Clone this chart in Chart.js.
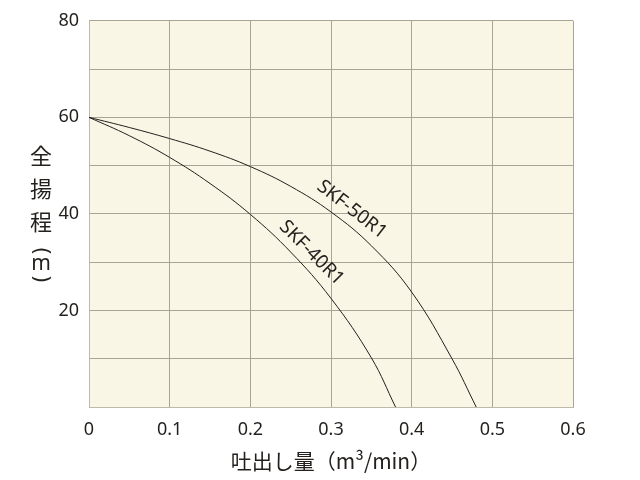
<!DOCTYPE html>
<html>
<head>
<meta charset="utf-8">
<script src="https://cdn.jsdelivr.net/npm/chart.js@4/dist/chart.umd.min.js"></script>
<style>
  html, body { margin: 0; padding: 0; background: #fff; }
  #wrap { width: 640px; height: 480px; }
</style>
</head>
<body>
<div id="wrap"><canvas id="plot" width="640" height="480"></canvas></div>
<script>
// flow (m3/min) vs total head (m)
const flow50 = [0, 0.05, 0.1, 0.15, 0.2, 0.25, 0.3, 0.35, 0.4, 0.45, 0.48]
const head50 = [60, 57.9, 55.6, 53.0, 49.8, 45.7, 40.4, 33.4, 23.8, 10.0, 0]

const flow40 = [0, 0.05, 0.1, 0.15, 0.2, 0.25, 0.3, 0.35, 0.38]
const head40 = [60, 56.2, 51.7, 46.3, 39.9, 32.1, 22.5, 10.2, 0]

// curve names and where they sit along the curves
const curveNames = ['SKF-50R1', 'SKF-40R1']
const nameFlow = [0.326, 0.276]
const nameHead = [40.9, 31.9]
const nameAngle = [38, 45]

const yTitleChars = ['全', '揚', '程']
const xTitle = '吐出し量（m³/min）'

function toPoints(xs, ys) {
    return xs.map((x, i) => ({ x: x, y: ys[i] }))
}

const plotBg = {
    id: 'plotBg',
    beforeDraw(chart) {
        const a = chart.chartArea
        const ctx = chart.ctx
        ctx.save()
        ctx.fillStyle = '#faf6e6'
        ctx.fillRect(a.left, a.top, a.right - a.left, a.bottom - a.top)
        ctx.restore()
    }
}

const curveLabels = {
    id: 'curveLabels',
    afterDatasetsDraw(chart) {
        const ctx = chart.ctx
        const xs = chart.scales.x
        const ys = chart.scales.y
        ctx.save()
        ctx.fillStyle = '#231f1c'
        ctx.font = '19px "Noto Sans", sans-serif'
        ctx.textAlign = 'center'
        ctx.textBaseline = 'middle'
        curveNames.forEach((name, i) => {
            ctx.save()
            ctx.translate(xs.getPixelForValue(nameFlow[i]), ys.getPixelForValue(nameHead[i]))
            ctx.rotate(nameAngle[i] * Math.PI / 180)
            ctx.fillText(name, 0, 0)
            ctx.restore()
        })
        ctx.restore()
    }
}

// vertical japanese axis title on the left
const yTitle = {
    id: 'yTitle',
    afterDraw(chart) {
        const ctx = chart.ctx
        const a = chart.chartArea
        const x = a.left - 48
        let y = a.top + 135
        ctx.save()
        ctx.fillStyle = '#231f1c'
        ctx.textAlign = 'center'
        ctx.textBaseline = 'middle'
        ctx.font = '22px "Noto Sans CJK JP", sans-serif'
        yTitleChars.forEach(ch => {
            ctx.fillText(ch, x, y)
            y += 33
        })
        ctx.font = '21px "Noto Sans", sans-serif'
        y -= 4
        ctx.save()
        ctx.translate(x, y)
        ctx.rotate(Math.PI / 2)
        ctx.fillText('(', 0, 0)
        ctx.restore()
        ctx.fillText('m', x, y + 13)
        ctx.save()
        ctx.translate(x, y + 28)
        ctx.rotate(Math.PI / 2)
        ctx.fillText(')', 0, 0)
        ctx.restore()
        ctx.restore()
    }
}

const lineStyle = {
    borderColor: '#231f1c',
    borderWidth: 1,
    pointRadius: 0,
    fill: false,
    tension: 0.4
}

const config = {
    type: 'line',
    data: {
        datasets: [
            Object.assign({ label: curveNames[0], data: toPoints(flow50, head50) }, lineStyle),
            Object.assign({ label: curveNames[1], data: toPoints(flow40, head40) }, lineStyle)
        ]
    },
    options: {
        responsive: false,
        animation: false,
        layout: { padding: { left: 0, right: 67, top: 20, bottom: 0 } },
        plugins: {
            legend: { display: false },
            tooltip: { enabled: false }
        },
        scales: {
            x: {
                type: 'linear',
                min: 0,
                max: 0.6,
                afterFit: s => { s.height = 73 },
                grid: { color: '#a8a496', lineWidth: 1, drawTicks: false },
                border: { color: '#bdb9ad' },
                ticks: {
                    stepSize: 0.1,
                    padding: 12,
                    color: '#231f1c',
                    font: { family: '"Noto Sans", sans-serif', size: 18 },
                    callback: v => v === 0 ? '0' : v.toFixed(1)
                },
                title: {
                    display: true,
                    text: xTitle,
                    color: '#231f1c',
                    font: { family: '"Noto Sans CJK JP", sans-serif', size: 21 },
                    padding: { top: 0, bottom: 6 }
                }
            },
            y: {
                min: 0,
                max: 80,
                afterFit: s => { s.width = 89 },
                grid: { color: '#a8a496', lineWidth: 1, drawTicks: false },
                border: { color: '#bdb9ad' },
                ticks: {
                    stepSize: 10,
                    padding: 10,
                    color: '#231f1c',
                    font: { family: '"Noto Sans", sans-serif', size: 18 },
                    callback: v => (v > 0 && v % 20 === 0) ? String(v) : ''
                }
            }
        }
    },
    plugins: [plotBg, curveLabels, yTitle]
}

myChart = new Chart(document.getElementById('plot'), config)
</script>
</body>
</html>
